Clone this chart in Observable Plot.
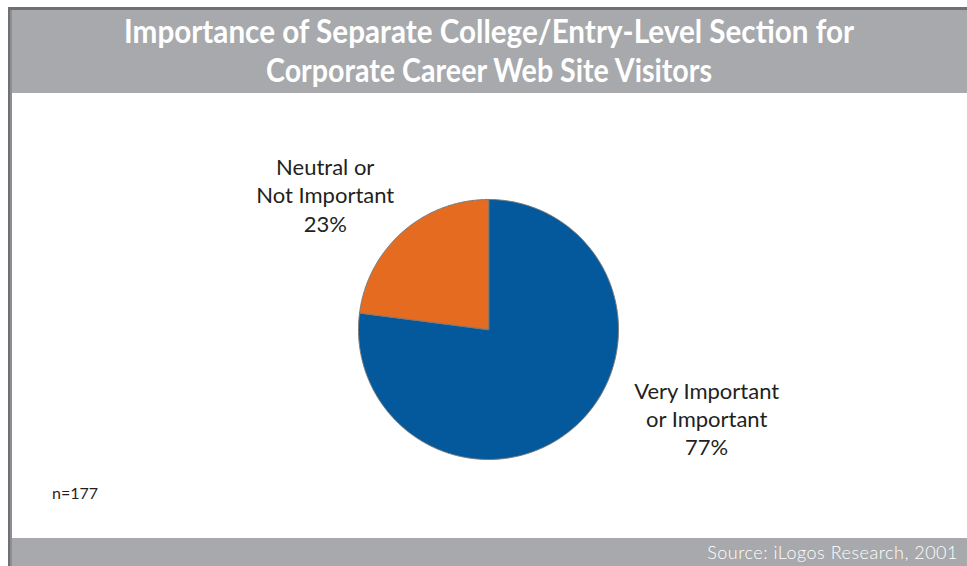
<!DOCTYPE html>
<html>
<head>
<meta charset="utf-8">
<script src="https://cdn.jsdelivr.net/npm/d3@7"></script>
<script src="https://cdn.jsdelivr.net/npm/@observablehq/plot@0.6"></script>
<style>
  body { margin: 0; background: #fff; }
  #wrap { position: relative; width: 967px; height: 566px; overflow: hidden; font-family: Lato, "Open Sans", sans-serif; background: #fff; }
  .abs { position: absolute; }
  #topline { left: 8px; top: 7px; width: 959px; height: 3px; background: #6f7073; }
  #leftline { left: 8px; top: 7px; width: 2px; height: 559px; background: #6f7073; }
  #leftline2 { left: 10px; top: 10px; width: 2px; height: 556px; background: #8e8f92; }
  #titlebar { left: 11px; top: 10px; width: 956px; height: 83px; background: #a7a9ac; }
  #chart { left: 12px; top: 93px; width: 955px; height: 445px; }
  #footer { left: 11px; top: 538px; width: 956px; height: 28px; background: #a7a9ac; }
  #source { right: 9px; top: 541px; color: #fff; font-size: 18px; letter-spacing: 0.5px; line-height: 22px; font-weight: 300; white-space: nowrap; }
  #note { left: 52px; top: 483px; color: #231f20; font-size: 16px; line-height: 20px; }
</style>
</head>
<body>
<div id="wrap">
  <div id="titlebar" class="abs"></div>
  <div id="chart" class="abs"></div>
  <div id="footer" class="abs"></div>
  <div id="topline" class="abs"></div>
  <div id="leftline" class="abs"></div>
  <div id="leftline2" class="abs"></div>
  <div id="source" class="abs"></div>
  <div id="note" class="abs"></div>
</div>
<script>
// ---- data ----
const categories = ["Very Important\nor Important", "Neutral or\nNot Important"];
const values = [77, 23];
const colors = ["#03599b", "#e46b20"];
const titleLines = ["Importance of Separate College/Entry-Level Section for", "Corporate Career Web Site Visitors"];
const noteText = "n=177";
const sourceText = "Source: iLogos Research, 2001";

// ---- layout ----
const W = 955, H = 445, R = 130, CX = 476, CY = 236;
const labelLayout = [ {angle: 112, r: 1.81}, {angle: 309.6, r: 1.63} ]; // polar position (deg clockwise from top, radius units)

// title
const tsvg = d3.select("#titlebar").append("svg").attr("width", 956).attr("height", 83);
const tl = [{w: 730, y: 33}, {w: 446, y: 72}];
titleLines.forEach((t, i) => {
  tsvg.append("text").attr("x", 478).attr("y", tl[i].y)
    .attr("text-anchor", "middle").attr("fill", "#fff")
    .attr("font-family", "Lato, 'Open Sans', sans-serif").attr("font-weight", 700).attr("font-size", 31.5)
    .attr("textLength", tl[i].w).attr("lengthAdjust", "spacingAndGlyphs").text(t);
});
document.getElementById("source").textContent = sourceText;
document.getElementById("note").textContent = noteText;

// pie geometry
const arcs = d3.pie().sort(null)(values);
const pts = [];
arcs.forEach((a, i) => {
  const cat = categories[i];
  pts.push({slice: cat, x: 0, y: 0});
  const n = Math.max(8, Math.ceil((a.endAngle - a.startAngle) / 0.01));
  for (let k = 0; k <= n; k++) {
    const t = a.startAngle + (a.endAngle - a.startAngle) * k / n;
    pts.push({slice: cat, x: Math.sin(t), y: Math.cos(t)});
  }
});
const labels = arcs.map((a, i) => {
  const ang = labelLayout[i].angle * Math.PI / 180;
  return {x: labelLayout[i].r * Math.sin(ang), y: labelLayout[i].r * Math.cos(ang), text: categories[i] + "\n" + values[i] + "%"};
});

const plot = Plot.plot({
  width: W, height: H, margin: 0,
  x: {domain: [-CX / R, (W - CX) / R], axis: null},
  y: {domain: [-(H - CY) / R, CY / R], axis: null},
  color: {domain: categories, range: colors},
  style: {background: "transparent"},
  marks: [
    Plot.line(pts, {x: "x", y: "y", z: "slice", fill: "slice", stroke: "#7a7a7a", strokeWidth: 1, curve: "linear-closed"}),
    Plot.text(labels, {x: "x", y: "y", text: "text", fontSize: 22, lineHeight: 1.28, fill: "#231f20",
      textAnchor: "middle", lineAnchor: "middle", fontFamily: "Lato, 'Open Sans', sans-serif"})
  ]
});
document.getElementById("chart").appendChild(plot);
</script>
</body>
</html>
